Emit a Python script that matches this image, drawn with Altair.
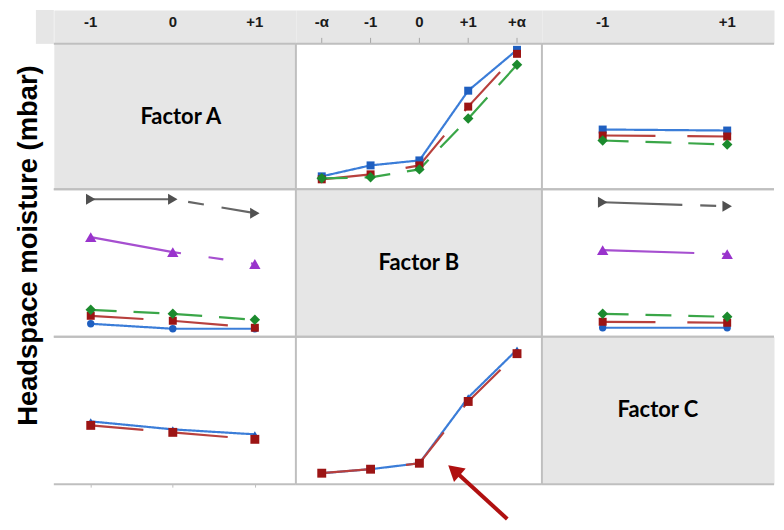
import altair as alt
import pandas as pd

# ---------------- factor levels & tick labels ----------------
A_levels = [-1, 0, 1]
A_ticks = ["-1", "0", "+1"]
B_levels = [-2, -1, 0, 1, 2]
B_ticks = ["-α", "-1", "0", "+1", "+α"]
C_levels = [-1, 1]
C_ticks = ["-1", "+1"]
factor_names = ["Factor A", "Factor B", "Factor C"]

A_series = ["A = -1", "A = 0", "A = +1"]
B_series = ["B = -α", "B = -1", "B = 0", "B = +1", "B = +α"]
C_series = ["C = -1", "C = +1"]

# ---------------- headspace moisture (relative units) ----------------
# row 1 : vs Factor B (series = Factor A) and vs Factor C (series = Factor A)
r1_vsB_Am1 = [13, 24, 29, 99, 140]
r1_vsB_A0 = [10, 15, 24, 83, 136]
r1_vsB_Ap1 = [11, 12, 20, 71, 125]
r1_vsC_Am1 = [60, 59]
r1_vsC_A0 = [54, 53]
r1_vsC_Ap1 = [49, 45]
# row 2 : vs Factor A (series = Factor B) and vs Factor C (series = Factor B)
r2_vsA_Bma = [13, 8, 8]
r2_vsA_Bm1 = [21, 16, 9]
r2_vsA_B0 = [27, 23, 17]
r2_vsA_Bp1 = [100, 85, 73]
r2_vsA_Bpa = [138, 138, 124]
r2_vsC_Bma = [9, 9]
r2_vsC_Bm1 = [15, 14]
r2_vsC_B0 = [23, 20]
r2_vsC_Bp1 = [87, 83]
r2_vsC_Bpa = [135, 131]
# row 3 : vs Factor A (series = Factor C) and vs Factor B (series = Factor C)
r3_vsA_Cm1 = [63, 55, 50]
r3_vsA_Cp1 = [59, 52, 45]
r3_vsB_Cm1 = [11, 15, 21, 87, 135]
r3_vsB_Cp1 = [11, 15, 21, 83, 131]

# annotation arrow (Factor B level, moisture) : tail -> head
arrow_lvl = [1.8, 0.71]
arrow_m = [-35, 14]

# ---------------- styles ----------------
GRID = "#bfbfbf"
PANEL_GRAY = "#e6e6e6"
LBL_FONT = "Liberation Sans"
TXT_FONT = "Lato"
TITLE_FONT = "Liberation Sans"

BLUE, RED, GREEN, PURPLE, GRAY = range(5)
line_col = ["#3b7dd8", "#b8403d", "#3aa648", "#a64fd0", "#666666"]
mark_col = ["#1f5fc0", "#9c1414", "#1b8a2d", "#9933cc", "#505050"]
dash = [[1, 0], [53, 32], [26, 17], [92, 28, 15, 28], [80, 18, 16, 18]]

W = [243, 247, 233]
H_HEAD = 34
H = [146, 148, 148]
XDOM = [[-1.45, 1.5], [-2.53, 2.51], [-1.976, 1.752]]
YDOM = [[0, 146], [0, 148], [0, 148]]


def long_df(levels, names, values):
    rows = []
    for n, vals in zip(names, values):
        for lv, v in zip(levels, vals):
            rows.append({"lvl": lv, "m": v, "s": n})
    return pd.DataFrame(rows)


def borders(w, h, left):
    d = pd.DataFrame({"k": [0]})
    out = [
        alt.Chart(d).mark_rule(color=GRID, strokeWidth=2).encode(
            x=alt.value(0), x2=alt.value(w), y=alt.value(0)),
        alt.Chart(d).mark_rule(color=GRID, strokeWidth=2).encode(
            x=alt.value(0), x2=alt.value(w), y=alt.value(h)),
    ]
    if left:
        out.append(alt.Chart(d).mark_rule(color=GRID, strokeWidth=2).encode(
            x=alt.value(0), y=alt.value(0), y2=alt.value(h)))
    return out


def panel(col, row, levels, names, values, roles, shapes, sizes,
          xaxis=None, yaxis=None, extra=None):
    w, h = W[col], H[row]
    df = long_df(levels, names, values)
    xs = alt.Scale(domain=XDOM[col], nice=False, zero=False)
    ys = alt.Scale(domain=YDOM[row], nice=False, zero=False)
    x = alt.X("lvl:Q", scale=xs, axis=xaxis)
    y = alt.Y("m:Q", scale=ys, axis=yaxis)
    line = alt.Chart(df).mark_line(strokeWidth=2.2).encode(
        x=x, y=y,
        stroke=alt.Stroke("s:N", scale=alt.Scale(domain=names, range=[line_col[r] for r in roles]), legend=None),
        strokeDash=alt.StrokeDash("s:N", scale=alt.Scale(domain=names, range=[dash[r] for r in roles]), legend=None),
    )
    pts = []
    for n, r, shp, sz in zip(names, roles, shapes, sizes):
        pts.append(alt.Chart(df[df["s"] == n]).mark_point(
            filled=True, opacity=1, shape=shp, size=sz, color=mark_col[r]).encode(x=x, y=y))
    layers = borders(w, h, col > 0) + [line] + pts
    if extra is not None:
        layers += extra(xs, ys)
    return alt.layer(*layers).properties(width=w, height=h)


def diag(i):
    w, h = W[i], H[i]
    d = pd.DataFrame({"t": [factor_names[i]]})
    txt = alt.Chart(d).mark_text(font=TXT_FONT, fontWeight="bold", fontSize=22,
                                 color="black", baseline="middle", align="center",
                                 dx=6 if i == 0 else 0).encode(
        x=alt.value(w / 2), y=alt.value(h / 2), text="t:N")
    return alt.layer(*borders(w, h, i > 0), txt).properties(
        width=w, height=h, view=alt.ViewBackground(fill=PANEL_GRAY))


def header(col, levels, ticks, with_ticks):
    w = W[col]
    d = pd.DataFrame({"lvl": levels, "t": ticks})
    xs = alt.Scale(domain=XDOM[col], nice=False, zero=False)
    layers = []
    if col == 0:
        layers.append(alt.Chart(pd.DataFrame({"k": [0]})).mark_rect(color=PANEL_GRAY).encode(
            x=alt.value(-18), x2=alt.value(0), y=alt.value(0), y2=alt.value(H_HEAD)))
    layers.append(alt.Chart(d).mark_text(font=LBL_FONT, fontWeight="bold", fontSize=15,
                                         color="#1a1a1a", baseline="middle").encode(
        x=alt.X("lvl:Q", scale=xs, axis=None), y=alt.value(12.5), text="t:N"))
    if with_ticks:
        layers.append(alt.Chart(d).mark_rule(color="#a6a6a6", strokeWidth=1).encode(
            x=alt.X("lvl:Q", scale=xs, axis=None), y=alt.value(28), y2=alt.value(H_HEAD)))
    return alt.layer(*layers).properties(width=w, height=H_HEAD,
                                         view=alt.ViewBackground(fill=PANEL_GRAY))


def bottom_ticks(levels):
    return alt.Axis(values=levels, labels=False, domain=False, grid=False, tickSize=3,
                    tickColor=GRID, tickWidth=1, title=None)


ytitle_axis = alt.Axis(title="Headspace moisture (mbar)", labels=False, ticks=False, domain=False,
                       grid=False, titleFont=TITLE_FONT, titleFontSize=27.5, titleFontWeight="bold",
                       titleColor="black", titleAngle=270, titleAlign="center",
                       titleBaseline="middle", titleX=-25, titleY=56)

A_roles = [BLUE, RED, GREEN]
B_roles = [BLUE, RED, GREEN, PURPLE, GRAY]
C_roles = [BLUE, RED]
A_shapes = ["square", "square", "diamond"]
A_sizes = [64, 64, 110]
B_shapes = ["circle", "square", "diamond", "triangle-up", "triangle-right"]
B_sizes = [55, 64, 110, 130, 120]
C_shapes = ["triangle-up", "square"]
C_sizes = [55, 80]


def arrow(xs, ys):
    d = pd.DataFrame({"lvl": [arrow_lvl[0]], "m": [arrow_m[0]],
                      "lvl2": [arrow_lvl[1]], "m2": [arrow_m[1]]})
    shaft = alt.Chart(d).mark_rule(color="#b01010", strokeWidth=4).encode(
        x=alt.X("lvl:Q", scale=xs, axis=None), y=alt.Y("m:Q", scale=ys, axis=None),
        x2="lvl2:Q", y2="m2:Q")
    head = alt.Chart(d).mark_point(shape="triangle-up", filled=True, opacity=1,
                                   color="#b01010", size=320, angle=311).encode(
        x=alt.X("lvl2:Q", scale=xs, axis=None), y=alt.Y("m2:Q", scale=ys, axis=None))
    return [shaft, head]


charts = [
    header(0, A_levels, A_ticks, False),
    header(1, B_levels, B_ticks, True),
    header(2, C_levels, C_ticks, False),
    # row 1
    diag(0),
    panel(1, 0, B_levels, A_series, [r1_vsB_Am1, r1_vsB_A0, r1_vsB_Ap1], A_roles, A_shapes, A_sizes),
    panel(2, 0, C_levels, A_series, [r1_vsC_Am1, r1_vsC_A0, r1_vsC_Ap1], A_roles, A_shapes, A_sizes),
    # row 2
    panel(0, 1, A_levels, B_series, [r2_vsA_Bma, r2_vsA_Bm1, r2_vsA_B0, r2_vsA_Bp1, r2_vsA_Bpa],
          B_roles, B_shapes, B_sizes, yaxis=ytitle_axis),
    diag(1),
    panel(2, 1, C_levels, B_series, [r2_vsC_Bma, r2_vsC_Bm1, r2_vsC_B0, r2_vsC_Bp1, r2_vsC_Bpa],
          B_roles, B_shapes, B_sizes),
    # row 3
    panel(0, 2, A_levels, C_series, [r3_vsA_Cm1, r3_vsA_Cp1], C_roles, C_shapes, C_sizes,
          xaxis=bottom_ticks(A_levels)),
    panel(1, 2, B_levels, C_series, [r3_vsB_Cm1, r3_vsB_Cp1], C_roles, C_shapes, C_sizes,
          extra=arrow),
    diag(2),
]

chart = alt.concat(*charts, columns=3, spacing=0, bounds="flush", align="each").resolve_scale(
    stroke="independent", strokeDash="independent"
).properties(
    padding={"left": 6, "top": 0, "right": 0, "bottom": 0}
).configure_view(stroke="transparent")

chart.save("out.html", embed_options={"renderer": "svg", "actions": False})
